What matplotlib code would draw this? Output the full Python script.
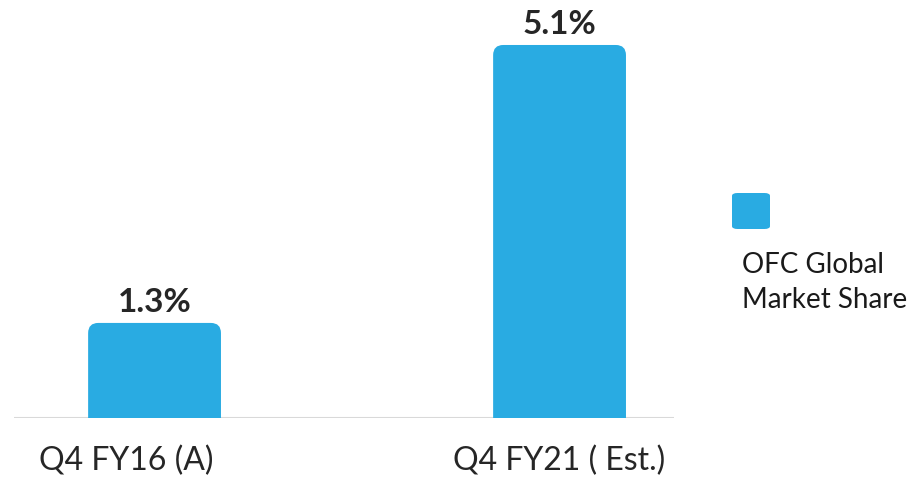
import matplotlib.pyplot as plt
from matplotlib.patches import FancyBboxPatch
from matplotlib.transforms import ScaledTranslation

# data
categories = ['Q4 FY16 (A)', 'Q4 FY21 ( Est.)']
share = [1.3, 5.1]
value_labels = ['1.3%', '5.1%']
series_name = 'OFC Global\nMarket Share'

bar_color = '#29abe2'
plt.rcParams['font.family'] = ['Lato', 'DejaVu Sans']

fig = plt.figure(figsize=(9.22, 4.79), dpi=100)
ax = fig.add_axes([0.0152, 0.1273, 0.716, 0.8727])

x = list(range(len(categories)))
bars = ax.bar(x, share, width=0.328, color=bar_color, alpha=0)  # geometry only

ax.set_xlim(-0.347, 1.283)
ax.set_ylim(0, 5.715)

# rounded-top bars (bottom corners hidden below the baseline)
aspect = 405 / 73.14
r = 0.025
for b in bars:
    p = FancyBboxPatch((b.get_x(), -0.3), b.get_width(), b.get_height() + 0.3,
                       boxstyle=f'round,pad=0,rounding_size={r}',
                       mutation_aspect=aspect, fc=bar_color, ec='none',
                       clip_on=True)
    ax.add_patch(p)

for xi, v, lab in zip(x, share, value_labels):
    ax.text(xi, v + 0.08, lab, ha='center', va='bottom',
            fontsize=24, fontweight='bold', color='#262626')

ax.axhline(0, color='#d9d9d9', lw=2.2, zorder=0)
for s in ax.spines.values():
    s.set_visible(False)
ax.set_yticks([])
ax.set_xticks(x)
ax.set_xticklabels(categories, fontsize=23, color='#262626')
ax.tick_params(axis='x', length=0, pad=20)
# first label sits a bit left of its bar in the original
lbl = ax.get_xticklabels()[0]
lbl.set_transform(lbl.get_transform() + ScaledTranslation(-0.28, 0, fig.dpi_scale_trans))

# legend
fig.patches.append(FancyBboxPatch((732 / 922, 1 - 229 / 479), 38 / 922, 36 / 479,
                                  boxstyle='round,pad=0,rounding_size=0.006',
                                  transform=fig.transFigure, fc=bar_color, ec='none',
                                  figure=fig))
fig.text(742 / 922, 1 - 252 / 479, series_name, ha='left', va='top',
         fontsize=20, color='#1a1a1a', linespacing=1.42)

plt.savefig('out.png', dpi=100)
